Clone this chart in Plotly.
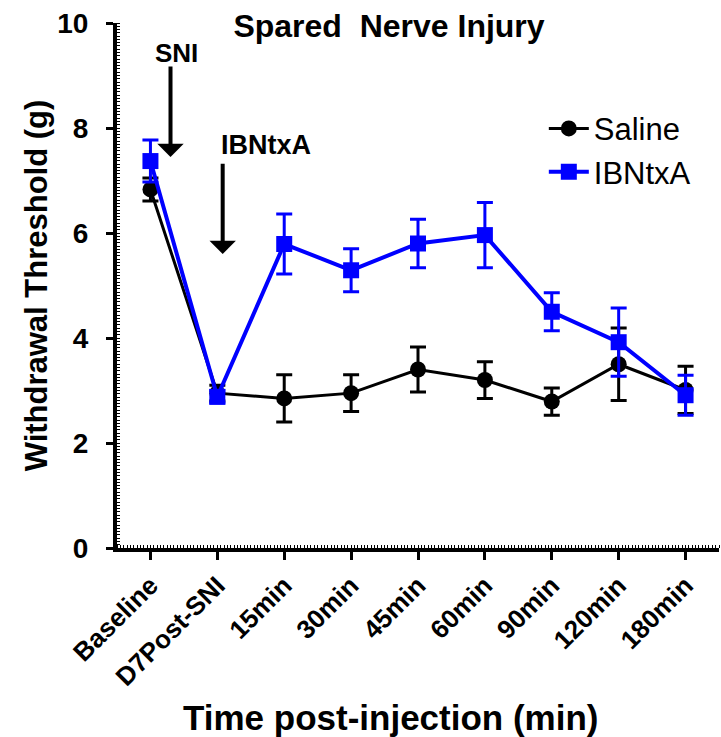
import plotly.graph_objects as go

categories = ["Baseline", "D7Post-SNI", "15min", "30min", "45min", "60min", "90min", "120min", "180min"]
saline_mean = [6.83, 2.95, 2.85, 2.95, 3.40, 3.20, 2.79, 3.50, 3.01]
saline_err = [0.22, 0.15, 0.45, 0.35, 0.43, 0.35, 0.26, 0.69, 0.45]
ibntxa_mean = [7.37, 2.88, 5.79, 5.29, 5.80, 5.96, 4.50, 3.92, 2.91]
ibntxa_err = [0.40, 0.12, 0.57, 0.41, 0.46, 0.62, 0.36, 0.65, 0.38]
y_ticks = [0, 2, 4, 6, 8, 10]

xpos = list(range(len(categories)))
FONT = "Liberation Sans, Arial, sans-serif"

fig = go.Figure()
fig.add_trace(go.Scatter(
    x=xpos, y=saline_mean, name="Saline", mode="lines+markers",
    line=dict(color="black", width=3),
    marker=dict(symbol="circle", size=16, color="black"),
    error_y=dict(type="data", array=saline_err, visible=True, color="black", thickness=3, width=8),
))
fig.add_trace(go.Scatter(
    x=xpos, y=ibntxa_mean, name="IBNtxA", mode="lines+markers",
    line=dict(color="#0000ff", width=4),
    marker=dict(symbol="square", size=16, color="#0000ff"),
    error_y=dict(type="data", array=ibntxa_err, visible=True, color="#0000ff", thickness=3, width=8),
))

# arrows and labels
fig.add_annotation(x=0.3, y=7.45, ax=0.3, ay=9.2, xref="x", yref="y", axref="x", ayref="y",
                   text="", showarrow=True, arrowhead=1, arrowsize=1.1, arrowwidth=4, arrowcolor="black")
fig.add_annotation(x=0.39, y=9.43, xref="x", yref="y", text="SNI", showarrow=False,
                   font=dict(family=FONT, size=26, color="black", weight="bold"))
fig.add_annotation(x=1.08, y=5.6, ax=1.08, ay=7.35, xref="x", yref="y", axref="x", ayref="y",
                   text="", showarrow=True, arrowhead=1, arrowsize=1.1, arrowwidth=4, arrowcolor="black")
fig.add_annotation(x=1.73, y=7.67, xref="x", yref="y", text="IBNtxA", showarrow=False,
                   font=dict(family=FONT, size=27, color="black", weight="bold"))

# x-axis title (placed as annotation so it can sit left of plot centre, like the reference)
fig.add_annotation(x=(390 - 117) / 602, y=(548 - 717) / 525, xref="paper", yref="paper",
                   text="Time post-injection (min)", showarrow=False, xanchor="center", yanchor="middle",
                   font=dict(family=FONT, size=35, color="black", weight="bold"))

fig.update_layout(
    width=721, height=737,
    margin=dict(l=117, r=2, t=23, b=189),
    paper_bgcolor="white", plot_bgcolor="white",
    font=dict(family=FONT, color="black"),
    title=dict(text="<b>Spared\u00a0 Nerve Injury</b>", x=389/721, xanchor="center",
               y=1 - 26/737, yanchor="middle", font=dict(family=FONT, size=32, color="black")),
    showlegend=True,
    legend=dict(x=0.709, y=0.85, xanchor="left", yanchor="top", bgcolor="rgba(0,0,0,0)",
                font=dict(family=FONT, size=31, color="black"), itemwidth=40, tracegroupgap=0),
)
fig.update_xaxes(
    range=[-0.5, 8.5], tickmode="array", tickvals=xpos, ticktext=categories,
    tickangle=-45, tickfont=dict(family=FONT, size=26, color="black", weight="bold"),
    showline=True, linecolor="black", linewidth=4, showgrid=False, zeroline=False,
    ticks="outside", ticklen=8, tickwidth=3, tickcolor="black",
    minor=dict(ticks="inside", ticklen=3, tickwidth=1, tickcolor="black", dtick=1/20, showgrid=False),
)
fig.update_yaxes(
    range=[0, 10], tickmode="array", tickvals=y_ticks, tickfont=dict(family=FONT, size=28, color="black", weight="bold"),
    showline=True, linecolor="black", linewidth=4, showgrid=False, zeroline=False,
    ticks="outside", ticklen=7, tickwidth=3, tickcolor="black", ticklabelstandoff=12,
    minor=dict(ticks="inside", ticklen=3, tickwidth=1, tickcolor="black", dtick=1/16, showgrid=False),
    title=dict(text="Withdrawal Threshold (g)", font=dict(family=FONT, size=31, color="black", weight="bold"), standoff=1),
)

fig.write_html("out.html")
